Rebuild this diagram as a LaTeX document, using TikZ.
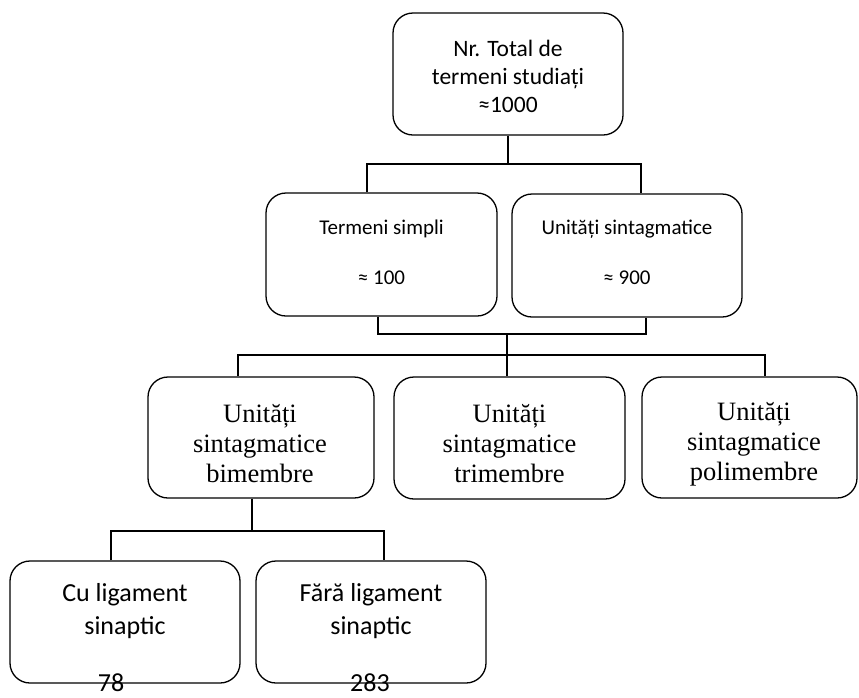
\documentclass[tikz,border=0pt]{standalone}
\usepackage{fontspec}
\setmainfont{Carlito}
\newfontfamily\timesf{Liberation Serif}
\begin{document}
\begin{tikzpicture}[x=1pt,y=-1pt,
  box/.style={draw, rounded corners=20pt, line width=1.3pt, inner sep=0pt, minimum height=122pt},
  conn/.style={line width=1.3pt},
  ftop/.style={font=\fontsize{23.5}{28}\selectfont, align=center, inner sep=0pt},
  fmid/.style={font=\fontsize{21}{25}\selectfont, align=center, inner sep=0pt},
  fthr/.style={font=\timesf\fontsize{26.5}{30}\selectfont, align=center, inner sep=0pt},
  fbot/.style={font=\fontsize{26}{33}\selectfont, align=center, inner sep=0pt}]
\useasboundingbox (0,0) rectangle (859,697);
% boxes
\node[box, minimum width=230pt] (top) at (508,74) {};
\node[box, minimum width=231pt, minimum height=123pt] (simpli) at (381.5,254.5) {};
\node[box, minimum width=230pt, minimum height=123pt] (sint) at (627,255.5) {};
\node[box, minimum width=226pt, minimum height=121pt] (bim) at (261,437.5) {};
\node[box, minimum width=231pt] (tri) at (509.5,438) {};
\node[box, minimum width=215pt, minimum height=121pt] (poli) at (749.5,437.5) {};
\node[box, minimum width=230pt] (cu) at (125,622) {};
\node[box, minimum width=230pt] (fara) at (371,622) {};
% texts
\node[ftop] (topT) at (508,76) {Nr. Total de\\termeni studiați\\≈1000};
\node[fmid] (simpliT) at (381.5,252) {Termeni simpli\\\mbox{}\\≈ 100};
\node[fmid] (sintT) at (627,252) {Unități sintagmatice\\\mbox{}\\≈ 900};
\node[fthr] (bimT) at (260,444) {Unități\\sintagmatice\\bimembre};
\node[fthr] (triT) at (509.5,444) {Unități\\sintagmatice\\trimembre};
\node[fthr] (poliT) at (754,444) {Unități\\sintagmatice\\polimembre};
\node[fbot] (cuT) at (125,611) {Cu ligament\\sinaptic};
\node[fbot] (faraT) at (371,611) {Fără ligament\\sinaptic};
\node[fbot] (n78) at (111,683) {78};
\node[fbot] (n283) at (370,683) {283};
% junction coordinates
\coordinate (a1) at (367,164);
\coordinate (a2) at (641,164);
\coordinate (b1) at (378,334);
\coordinate (b2) at (646,334);
\coordinate (b3) at (507,334);
\coordinate (c1) at (238,355);
\coordinate (c2) at (765,355);
\coordinate (d0) at (252,531);
\coordinate (d1) at (111,531);
\coordinate (d2) at (384,531);
% connectors
\draw[conn] (top.south) -- (top.south |- a1);
\draw[conn] (simpli.north -| a1) -- (a1) -- (a2) -- (sint.north -| a2);
\draw[conn] (simpli.south -| b1) -- (b1) -- (b2) -- (sint.south -| b2);
\draw[conn] (b3) -- (tri.north -| b3);
\draw[conn] (bim.north -| c1) -- (c1) -- (c2) -- (poli.north -| c2);
\draw[conn] (bim.south -| d0) -- (d0);
\draw[conn] (cu.north -| d1) -- (d1) -- (d2) -- (fara.north -| d2);
\end{tikzpicture}
\end{document}
